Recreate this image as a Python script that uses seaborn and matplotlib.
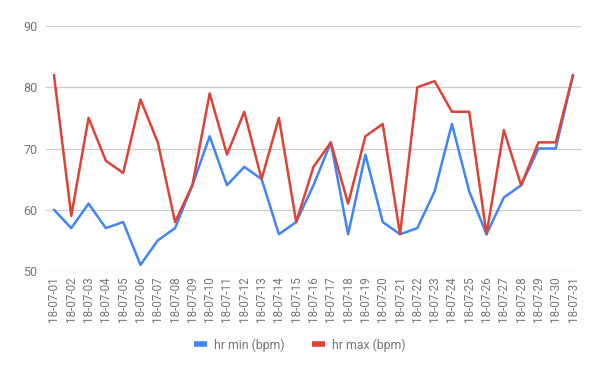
import matplotlib
matplotlib.use("Agg")
import matplotlib.pyplot as plt
import seaborn as sns
import pandas as pd
from matplotlib.lines import Line2D

dates = [f"18-07-{d:02d}" for d in range(1, 32)]
hr_min = [60, 57, 61, 57, 58, 51, 55, 57, 64, 72, 64, 67, 65, 56, 58, 64, 71, 56, 69, 58,
          56, 57, 63, 74, 63, 56, 62, 64, 70, 70, 82]
hr_max = [82, 59, 75, 68, 66, 78, 71, 58, 64, 79, 69, 76, 65, 75, 58, 67, 71, 61, 72, 74,
          56, 80, 81, 76, 76, 56, 73, 64, 71, 71, 82]
series_names = ["hr min (bpm)", "hr max (bpm)"]
colors = ["#4285F4", "#DB4437"]

df = pd.DataFrame({
    "date": dates * 2,
    "idx": list(range(len(dates))) * 2,
    "value": hr_min + hr_max,
    "series": [series_names[0]] * len(dates) + [series_names[1]] * len(dates),
})

sns.set_theme(style="white")
plt.rcParams["font.family"] = ["Roboto", "DejaVu Sans"]

fig = plt.figure(figsize=(6, 3.71), dpi=100)
ax = fig.add_axes([46/600, 1 - 271/371, (581-46)/600, (271-26)/371])

sns.lineplot(data=df, x="idx", y="value", hue="series", palette=colors,
             hue_order=series_names, linewidth=1.8, ax=ax, legend=False, sort=False)

ax.set_xlim(-0.46, len(dates) - 1 + 0.46)
ax.set_ylim(50, 90)
ax.set_yticks([50, 60, 70, 80, 90])
ax.set_xticks(range(len(dates)))
ax.set_xticklabels(dates, rotation=90, fontsize=8.4, color="#757575")
ax.tick_params(axis="y", labelsize=9, labelcolor="#757575", length=0, pad=6)
ax.tick_params(axis="x", length=0, pad=4)
ax.grid(axis="y", color="#cccccc", linewidth=0.9)
ax.set_axisbelow(True)
for s in ax.spines.values():
    s.set_visible(False)
ax.set_xlabel("")
ax.set_ylabel("")

handles = [Line2D([0], [0], color=c, linewidth=4, solid_capstyle="butt") for c in colors]
fig.legend(handles, series_names, loc="center", bbox_to_anchor=(300/600, 1 - 345/371),
           ncol=2, frameon=False, fontsize=8.8, handlelength=1.05, columnspacing=2.2,
           handletextpad=0.6, labelcolor="#757575")

fig.savefig("out.png", dpi=100)
